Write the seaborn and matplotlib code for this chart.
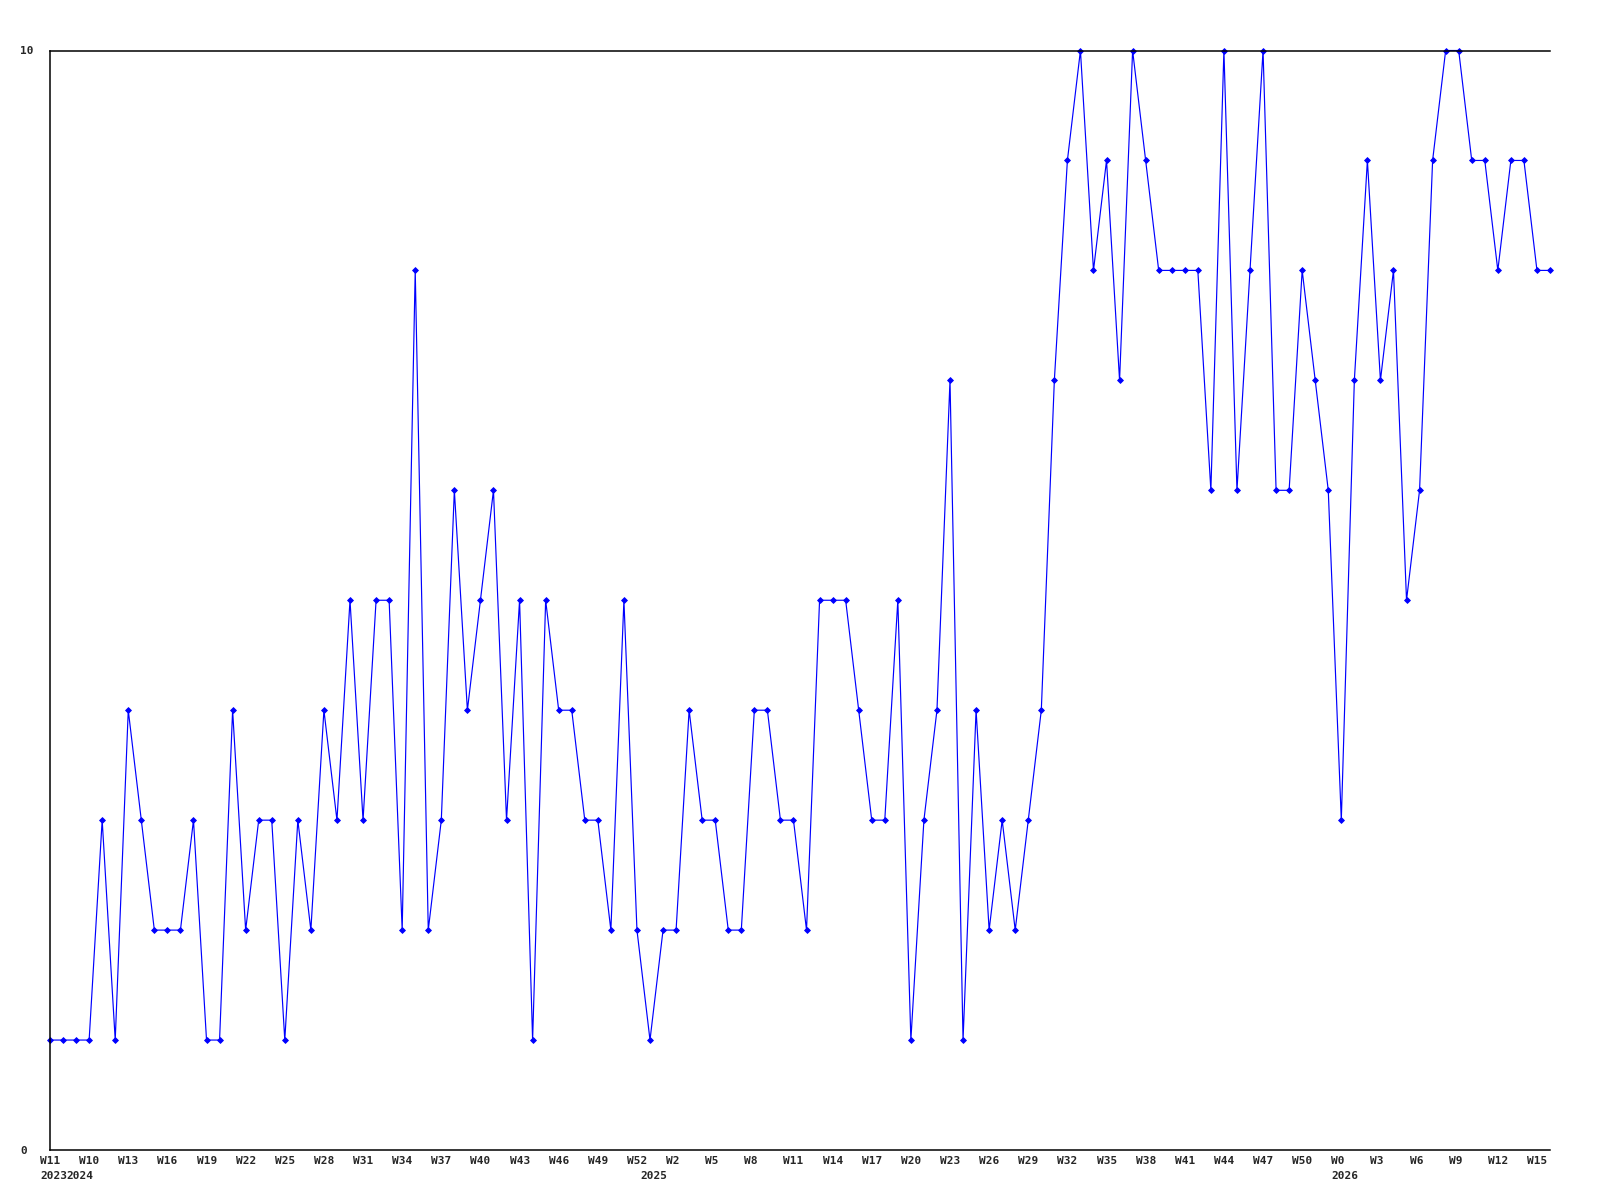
import matplotlib
matplotlib.use("Agg")
import matplotlib.pyplot as plt
import matplotlib.transforms as mtransforms
import numpy as np
import pandas as pd
import seaborn as sns

# weekly score, one value per week with data (integers 1-10)
values = [1, 1, 1, 1, 3, 1, 4, 3, 2, 2, 2, 3, 1, 1, 4, 2, 3, 3, 1, 3,
          2, 4, 3, 5, 3, 5, 5, 2, 8, 2, 3, 6, 4, 5, 6, 3, 5, 1, 5, 4,
          4, 3, 3, 2, 5, 2, 1, 2, 2, 4, 3, 3, 2, 2, 4, 4, 3, 3, 2, 5,
          5, 5, 4, 3, 3, 5, 1, 3, 4, 7, 1, 4, 2, 3, 2, 3, 4, 7, 9, 10,
          8, 9, 7, 10, 9, 8, 8, 8, 8, 6, 10, 6, 8, 10, 6, 6, 8, 7, 6, 3,
          7, 9, 7, 8, 5, 6, 9, 10, 10, 9, 9, 8, 9, 9, 8, 8]

# x tick labels, one every 3 points
week_labels = ["W11", "W10", "W13", "W16", "W19", "W22", "W25", "W28", "W31", "W34",
               "W37", "W40", "W43", "W46", "W49", "W52", "W2", "W5", "W8", "W11",
               "W14", "W17", "W20", "W23", "W26", "W29", "W32", "W35", "W38", "W41",
               "W44", "W47", "W50", "W0", "W3", "W6", "W9", "W12", "W15"]
tick_step = 3

# year labels and the point where each year starts
years = ["2023", "2024", "2025", "2026"]
year_start = [0, 2, 46, 99]

df = pd.DataFrame({"idx": np.arange(len(values)), "score": values})

sns.set_style("white")
plt.rcParams["font.family"] = ["DejaVu Sans Mono", "DejaVu Sans"]

fig = plt.figure(figsize=(16, 12), dpi=100)
ax = fig.add_axes([50 / 1600, 50 / 1200, 1500 / 1600, 1099.5 / 1200])

sns.lineplot(data=df, x="idx", y="score", ax=ax, color="#0000ff",
             linewidth=0.85, marker="D", markersize=3.0,
             markeredgecolor="#0000ff", markeredgewidth=0.6, clip_on=False)

ax.set_xlim(0, len(values) - 1)
ax.set_ylim(0, 10)
ax.set_xlabel("")
ax.set_ylabel("")

for side in ["left", "bottom", "top"]:
    ax.spines[side].set_color("black")
    ax.spines[side].set_linewidth(1.1)
ax.spines["right"].set_visible(False)

font = dict(fontsize=8, fontweight="bold", family="DejaVu Sans Mono")

ax.set_yticks([0, 10])
ax.set_yticklabels(["0", "10"], ha="left", **font)
ax.tick_params(axis="y", length=0, pad=0)
yoff = mtransforms.ScaledTranslation(-30 / 100, 0, fig.dpi_scale_trans)
for lab in ax.get_yticklabels():
    lab.set_transform(lab.get_transform() + yoff)

xt = np.arange(0, len(week_labels) * tick_step, tick_step)
ax.set_xticks(xt)
ax.set_xticklabels(week_labels, ha="left", **font)
ax.tick_params(axis="x", length=0, pad=4.5)
xoff = mtransforms.ScaledTranslation(-10 / 100, 0, fig.dpi_scale_trans)
for lab in ax.get_xticklabels():
    lab.set_transform(lab.get_transform() + xoff)

trans = ax.get_xaxis_transform() + mtransforms.ScaledTranslation(-10 / 100, -21 / 100, fig.dpi_scale_trans)
for yr, pos in zip(years, year_start):
    ax.text(pos, 0, yr, transform=trans, ha="left", va="top", **font)

fig.savefig("out.png", dpi=100)
